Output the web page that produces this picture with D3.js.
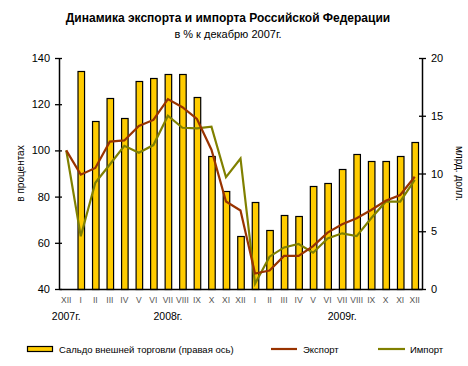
<!DOCTYPE html>
<html>
<head>
<meta charset="utf-8">
<script src="https://cdn.jsdelivr.net/npm/d3@7"></script>
<style>
    body { margin: 0; background: #fff; }
    svg { font-family: Arial, "Liberation Sans", sans-serif; }
</style>
</head>
<body>
<div id="chart"></div>
<script>
// Data
const months = ['XII', 'I', 'II', 'III', 'IV', 'V', 'VI', 'VII', 'VIII', 'IX', 'X', 'XI', 'XII',
    'I', 'II', 'III', 'IV', 'V', 'VI', 'VII', 'VIII', 'IX', 'X', 'XI', 'XII'];
const years = [
    { label: '2007г.', at: 0 },
    { label: '2008г.', at: 7 },
    { label: '2009г.', at: 19 }
];
const balance = [null, 18.85, 14.55, 16.5, 14.8, 18.05, 18.25, 18.65, 18.6, 16.6, 11.55, 8.5, 4.6,
    7.5, 5.15, 6.4, 6.3, 8.9, 9.15, 10.4, 11.65, 11.05, 11.05, 11.55, 12.75];
const exportVals = [100, 89.5, 92.4, 103.8, 104.3, 110.6, 113.2, 122.2, 118.7, 113.6, 100.3, 77.9, 74,
    46.7, 48, 54.3, 54.3, 58.6, 64.4, 68, 70.6, 74.2, 78.2, 80.7, 88.6];
const importVals = [100, 62.8, 86, 93.9, 102, 99, 102.3, 115, 109.8, 109.5, 110.3, 88.4, 96.5,
    42.3, 54, 58, 59.5, 55.7, 61.9, 64.1, 62.9, 70.6, 77.8, 77.8, 87.2];
const leftTicks = [40, 60, 80, 100, 120, 140];
const rightTicks = [0, 5, 10, 15, 20];

const colors = { bar: '#FFCC00', exp: '#993300', imp: '#808000' };

const W = 468, H = 366;
const plot = { left: 59, right: 422, top: 58, bottom: 289 };

const svg = d3.select('#chart').append('svg')
    .attr('width', W)
    .attr('height', H);

const x = d3.scaleBand()
    .domain(d3.range(months.length))
    .range([plot.left, plot.right])
    .paddingInner(0.55)
    .paddingOuter(0.275);

const xc = i => x(i) + x.bandwidth() / 2;

const yL = d3.scaleLinear().domain([40, 140]).range([plot.bottom, plot.top]);
const yR = d3.scaleLinear().domain([0, 20]).range([plot.bottom, plot.top]);

// Title
svg.append('text')
    .attr('x', 228).attr('y', 22)
    .attr('text-anchor', 'middle')
    .style('font-size', '12px').style('font-weight', 'bold')
    .text('Динамика экспорта и импорта Российской Федерации');
svg.append('text')
    .attr('x', 228).attr('y', 38)
    .attr('text-anchor', 'middle')
    .style('font-size', '11px')
    .text('в % к декабрю 2007г.');

// Bars
svg.append('g').selectAll('rect')
    .data(balance.map((v, i) => ({ v, i })).filter(d => d.v !== null))
    .join('rect')
    .attr('x', d => x(d.i) + 0.5)
    .attr('y', d => Math.round(yR(d.v)) + 0.5)
    .attr('width', x.bandwidth())
    .attr('height', d => plot.bottom - Math.round(yR(d.v)))
    .attr('fill', colors.bar)
    .attr('stroke', '#000')
    .attr('stroke-width', 1.2);

// Lines
const line = d3.line().x((d, i) => xc(i)).y(d => yL(d));
svg.append('path')
    .attr('d', line(importVals))
    .attr('fill', 'none').attr('stroke', colors.imp).attr('stroke-width', 2.2);
svg.append('path')
    .attr('d', line(exportVals))
    .attr('fill', 'none').attr('stroke', colors.exp).attr('stroke-width', 2.2);

// Axes
const leftAxis = d3.axisLeft(yL).tickValues(leftTicks).tickSize(0).tickPadding(9);
const gl = svg.append('g').attr('transform', `translate(${plot.left},0)`).call(leftAxis);
gl.select('.domain').attr('stroke', '#000').attr('stroke-width', 1.5);
gl.selectAll('.tick text').style('font-size', '11px').attr('fill', '#000');
gl.selectAll('.tick').append('line').attr('x1', -4).attr('x2', 3).attr('stroke', '#000').attr('stroke-width', 1.3);

const rightAxis = d3.axisRight(yR).tickValues(rightTicks).tickSize(0).tickPadding(9);
const gr = svg.append('g').attr('transform', `translate(${plot.right},0)`).call(rightAxis);
gr.select('.domain').attr('stroke', '#000').attr('stroke-width', 1.5);
gr.selectAll('.tick text').style('font-size', '11px').attr('fill', '#000');
gr.selectAll('.tick').append('line').attr('x1', -3).attr('x2', 4).attr('stroke', '#000').attr('stroke-width', 1.3);

const bottomAxis = d3.axisBottom(x).tickSize(0).tickPadding(8).tickFormat(i => months[i]);
const gb = svg.append('g').attr('transform', `translate(0,${plot.bottom})`).call(bottomAxis);
gb.select('.domain').attr('stroke', '#000').attr('stroke-width', 1.5);
gb.selectAll('.tick text').style('font-size', '8.5px').attr('fill', '#555');

// Year labels
svg.append('g').selectAll('text')
    .data(years)
    .join('text')
    .attr('x', d => xc(d.at))
    .attr('y', 320)
    .attr('text-anchor', 'middle')
    .style('font-size', '10.5px')
    .text(d => d.label);

// Axis titles
svg.append('text')
    .attr('transform', `translate(24,${(plot.top + plot.bottom) / 2}) rotate(-90)`)
    .attr('text-anchor', 'middle')
    .style('font-size', '10px')
    .text('в процентах');
svg.append('text')
    .attr('transform', `translate(456,${(plot.top + plot.bottom) / 2}) rotate(90)`)
    .attr('text-anchor', 'middle')
    .style('font-size', '10px')
    .text('млрд. долл.');

// Legend
const lg = svg.append('g').style('font-size', '9.5px');
lg.append('rect').attr('x', 27.5).attr('y', 346.5).attr('width', 25).attr('height', 5)
    .attr('fill', colors.bar).attr('stroke', '#000').attr('stroke-width', 1.2);
lg.append('text').attr('x', 59).attr('y', 352.5).text('Сальдо внешней торговли (правая ось)');
lg.append('line').attr('x1', 271).attr('x2', 297).attr('y1', 349).attr('y2', 349)
    .attr('stroke', colors.exp).attr('stroke-width', 2.2);
lg.append('text').attr('x', 303).attr('y', 352.5).text('Экспорт');
lg.append('line').attr('x1', 378).attr('x2', 405).attr('y1', 349).attr('y2', 349)
    .attr('stroke', colors.imp).attr('stroke-width', 2.2);
lg.append('text').attr('x', 410).attr('y', 352.5).text('Импорт');
</script>
</body>
</html>
